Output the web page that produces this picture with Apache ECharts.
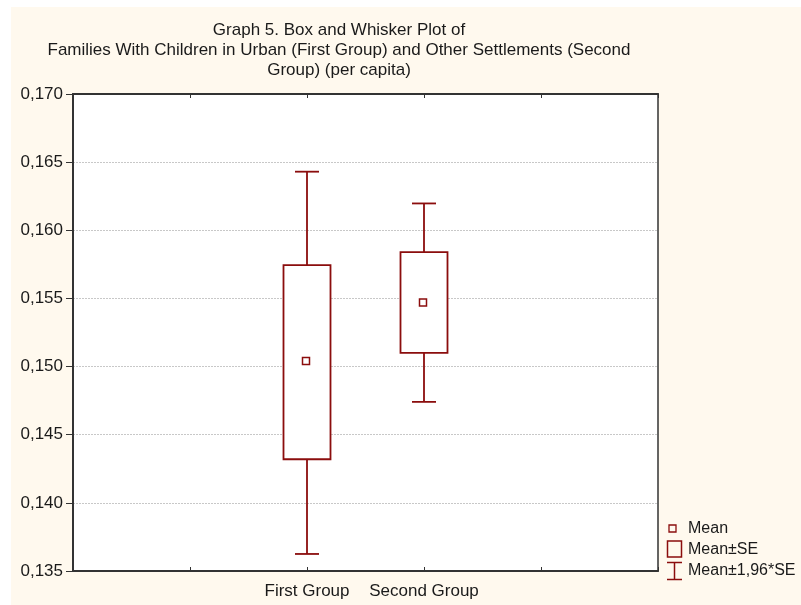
<!DOCTYPE html>
<html>
<head>
<meta charset="utf-8">
<script src="https://cdn.jsdelivr.net/npm/echarts@6/dist/echarts.min.js"></script>
<style>
  html, body { margin: 0; padding: 0; background: #ffffff; }
  #chart { width: 801px; height: 605px; }
</style>
</head>
<body>
<div id="chart"></div>
<script>
// Group names and per-capita statistics (mean, mean ± SE, mean ± 1,96*SE)
const groups = ['First Group', 'Second Group'];
const means = [0.1504, 0.1547];
const seLow = [0.1432, 0.1510];
const seHigh = [0.15745, 0.1584];
const ciLow = [0.13625, 0.14741];
const ciHigh = [0.16430, 0.16197];

// Slots along the horizontal axis; groups occupy the two middle ones
const slots = ['', '', groups[0], groups[1], '', ''];
const groupSlot = [2, 3];

const yMin = 0.135, yMax = 0.170, yStep = 0.005;

const RED = '#8b0d0d';
const FONT = '"Liberation Sans", Arial, sans-serif';

const boxData = groups.map((g, i) => [groupSlot[i], ciLow[i], seLow[i], means[i], seHigh[i], ciHigh[i]]);

function renderBox(params, api) {
  const x = api.value(0);
  const pLo = api.coord([x, api.value(1)]);
  const pSeLo = api.coord([x, api.value(2)]);
  const pMean = api.coord([x, api.value(3)]);
  const pSeHi = api.coord([x, api.value(4)]);
  const pHi = api.coord([x, api.value(5)]);
  const cx = pMean[0];
  const halfBox = 23.5, halfCap = 12, m = 3.5;
  const stroke = { stroke: RED, lineWidth: 1.8, fill: null };
  return {
    type: 'group',
    children: [
      { type: 'line', shape: { x1: cx, y1: pHi[1], x2: cx, y2: pLo[1] }, style: stroke },
      { type: 'line', shape: { x1: cx - halfCap, y1: pHi[1], x2: cx + halfCap, y2: pHi[1] }, style: stroke },
      { type: 'line', shape: { x1: cx - halfCap, y1: pLo[1], x2: cx + halfCap, y2: pLo[1] }, style: stroke },
      { type: 'rect', shape: { x: cx - halfBox, y: pSeHi[1], width: 2 * halfBox, height: pSeLo[1] - pSeHi[1] },
        style: { stroke: RED, lineWidth: 1.8, fill: '#ffffff' } },
      { type: 'rect', shape: { x: cx - m - 1, y: pMean[1] - m, width: 2 * m, height: 2 * m },
        style: { stroke: RED, lineWidth: 1.5, fill: '#ffffff' } }
    ]
  };
}

const chart = echarts.init(document.getElementById('chart'), null, { renderer: 'canvas' });

chart.setOption({
  backgroundColor: '#ffffff',
  animation: false,
  graphic: [
    { type: 'rect', z: -10, shape: { x: 11, y: 7, width: 790, height: 598 }, style: { fill: '#fff9ee' }, silent: true },
    {
      type: 'text',
      style: {
        text: 'Graph 5. Box and Whisker Plot of\nFamilies With Children in Urban (First Group) and Other Settlements (Second\nGroup) (per capita)',
        x: 339, y: 20, textAlign: 'center', textVerticalAlign: 'top',
        font: '17px ' + FONT, fill: '#1a1a1a', lineHeight: 20
      }
    },
    // legend
    { type: 'rect', shape: { x: 669, y: 525, width: 7, height: 7 }, style: { stroke: RED, lineWidth: 1.3, fill: 'none' } },
    { type: 'text', style: { text: 'Mean', x: 688, y: 529, textVerticalAlign: 'middle', font: '16px ' + FONT, fill: '#1a1a1a' } },
    { type: 'rect', shape: { x: 667.5, y: 541, width: 14, height: 16 }, style: { stroke: RED, lineWidth: 1.5, fill: 'none' } },
    { type: 'text', style: { text: 'Mean\u00b1SE', x: 688, y: 550, textVerticalAlign: 'middle', font: '16px ' + FONT, fill: '#1a1a1a' } },
    { type: 'line', shape: { x1: 667, y1: 562.5, x2: 682, y2: 562.5 }, style: { stroke: RED, lineWidth: 1.5 } },
    { type: 'line', shape: { x1: 674.5, y1: 562.5, x2: 674.5, y2: 579.5 }, style: { stroke: RED, lineWidth: 1.5 } },
    { type: 'line', shape: { x1: 667, y1: 579.5, x2: 682, y2: 579.5 }, style: { stroke: RED, lineWidth: 1.5 } },
    { type: 'text', style: { text: 'Mean\u00b11,96*SE', x: 688, y: 571, textVerticalAlign: 'middle', font: '16px ' + FONT, fill: '#1a1a1a' } }
  ],
  grid: {
    left: 73, right: 143, top: 94, bottom: 34,
    show: true, backgroundColor: '#ffffff', borderColor: '#333333', borderWidth: 1.5
  },
  xAxis: [
    {
      type: 'category', data: slots, boundaryGap: false, position: 'bottom',
      axisLine: { show: true, lineStyle: { color: '#333333', width: 2 } },
      axisTick: { show: true, inside: true, length: 4, lineStyle: { color: '#333333' } },
      axisLabel: { show: true, interval: 0, margin: 12, color: '#1a1a1a', fontSize: 17, fontFamily: FONT },
      splitLine: { show: false }
    },
    {
      type: 'category', data: slots, boundaryGap: false, position: 'top',
      axisLine: { show: true, lineStyle: { color: '#333333', width: 2 } },
      axisTick: { show: true, inside: true, length: 4, lineStyle: { color: '#333333' } },
      axisLabel: { show: false },
      splitLine: { show: false }
    }
  ],
  yAxis: {
    type: 'value', min: yMin, max: yMax, interval: yStep,
    axisLine: { show: true, lineStyle: { color: '#333333', width: 2 } },
    axisTick: { show: true, length: 7, lineStyle: { color: '#333333' } },
    axisLabel: {
      margin: 10, color: '#1a1a1a', fontSize: 17, fontFamily: FONT,
      formatter: v => v.toFixed(3).replace('.', ',')
    },
    splitLine: { show: true, lineStyle: { color: '#c8c8c8', width: 1, type: [2, 1] } }
  },
  series: [{
    type: 'custom',
    name: 'Mean\u00b11,96*SE',
    renderItem: renderBox,
    encode: { x: 0, y: [1, 2, 3, 4, 5] },
    data: boxData,
    z: 5
  }]
});
</script>
</body>
</html>
